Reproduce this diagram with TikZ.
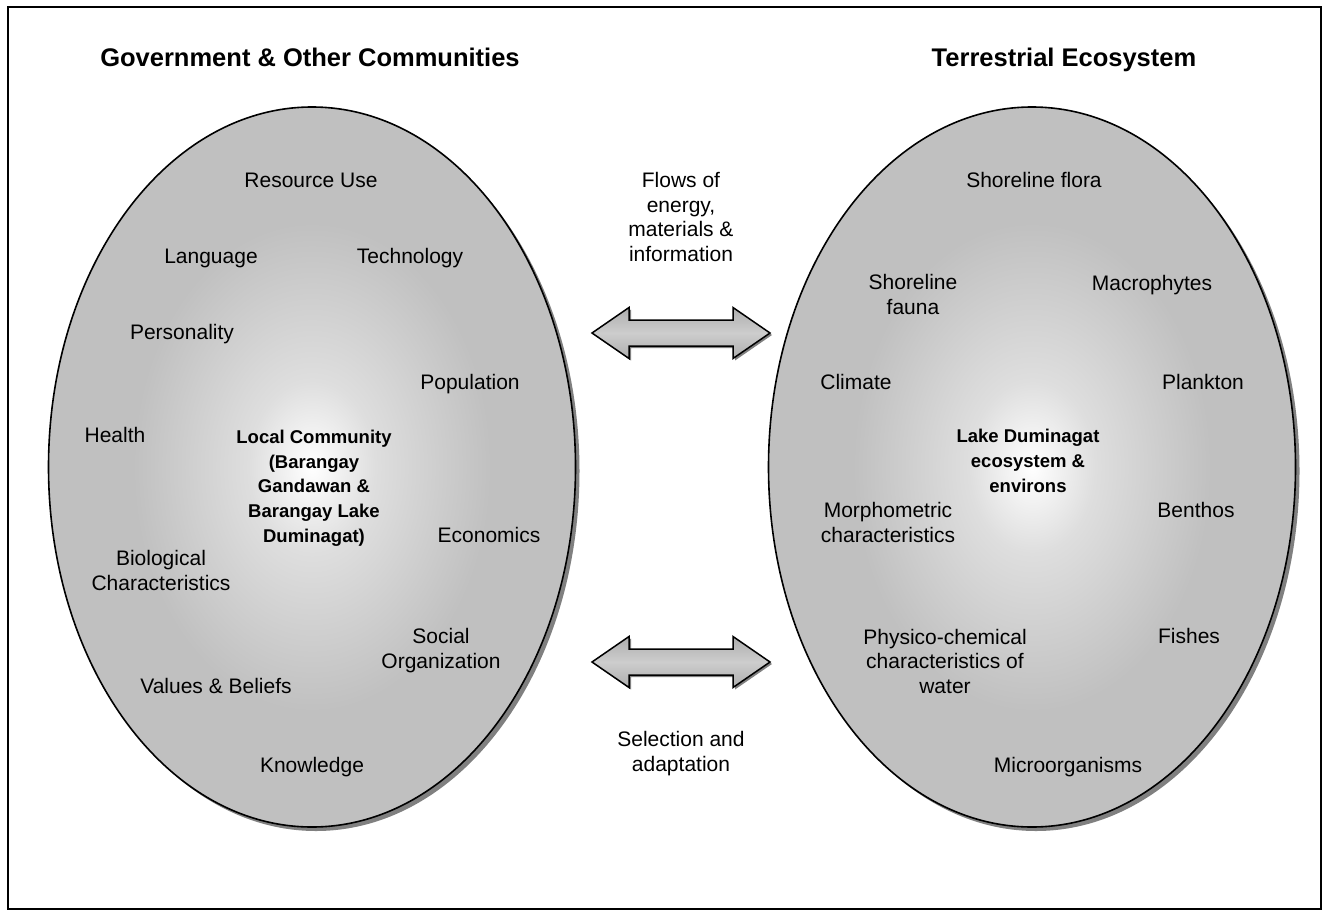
\documentclass[tikz,border=0pt]{standalone}
\usepackage{fontspec}
\setmainfont{Liberation Sans}
\usetikzlibrary{shapes.geometric}
\definecolor{ellgray}{RGB}{192,192,192}
\definecolor{shadowgray}{RGB}{128,128,128}
\definecolor{midgray}{RGB}{222,222,222}
\definecolor{arrgray}{RGB}{205,205,205}
\pgfdeclareradialshading{ellshade}{\pgfpoint{0bp}{0bp}}{color(0bp)=(white); color(6bp)=(midgray); color(17bp)=(ellgray); color(25bp)=(ellgray); color(50bp)=(ellgray)}
\tikzset{
  lbl/.style={font=\fontsize{21}{24.6}\selectfont, align=center, inner sep=0pt, anchor=base},
  blbl/.style={lbl, font=\fontsize{18.5}{24.6}\selectfont\bfseries},
  ttl/.style={font=\fontsize{25.5}{29}\selectfont\bfseries, inner sep=0pt, anchor=base},
  bigell/.style={ellipse, minimum width=527pt, minimum height=720pt, inner sep=0pt},
  ellbody/.style={bigell, shading=ellshade, draw=black, line width=1.6pt},
  ellshadow/.style={bigell, fill=shadowgray},
  arrbody/.style={draw=black, line width=1.5pt, top color=ellgray!90!black, bottom color=ellgray!90!black, middle color=arrgray},
}
\begin{document}
\begin{tikzpicture}[x=1pt,y=-1pt]
\useasboundingbox (0,0) rectangle (1325,916);
\draw[line width=2.5pt] (8,7) rectangle (1321,909);
% titles
\node[ttl] (ttlL) at (310,66) {Government \& Other Communities};
\node[ttl] (ttlR) at (1064,66) {Terrestrial Ecosystem};
% ellipses
\node[ellshadow] (shL) at (316,471) {};
\node[ellbody] (ellL) at (312,467) {};
\node[ellshadow] (shR) at (1036,471) {};
\node[ellbody] (ellR) at (1032,467) {};
% arrows
\begin{scope}[shift={(681,333)}]
\coordinate (arrU) at (0,0);
\fill[shadowgray] (-87,2) -- ++(37,-25.5) -- ++(0,12.5) -- ++(104,0) -- ++(0,-12.5) -- ++(37,25.5) -- ++(-37,25.5) -- ++(0,-12.5) -- ++(-104,0) -- ++(0,12.5) -- cycle;
\path[arrbody] (-89,0) -- ++(37,-25.5) -- ++(0,12.5) -- ++(104,0) -- ++(0,-12.5) -- ++(37,25.5) -- ++(-37,25.5) -- ++(0,-12.5) -- ++(-104,0) -- ++(0,12.5) -- cycle;
\end{scope}
\begin{scope}[shift={(681,662)}]
\coordinate (arrD) at (0,0);
\fill[shadowgray] (-87,2) -- ++(37,-25.5) -- ++(0,12.5) -- ++(104,0) -- ++(0,-12.5) -- ++(37,25.5) -- ++(-37,25.5) -- ++(0,-12.5) -- ++(-104,0) -- ++(0,12.5) -- cycle;
\path[arrbody] (-89,0) -- ++(37,-25.5) -- ++(0,12.5) -- ++(104,0) -- ++(0,-12.5) -- ++(37,25.5) -- ++(-37,25.5) -- ++(0,-12.5) -- ++(-104,0) -- ++(0,12.5) -- cycle;
\end{scope}
% middle texts (base anchor = baseline of last line)
\node[lbl] (flows) at (681,261.5) {Flows of\\energy,\\materials \&\\information};
\node[lbl] (select) at (681,771.5) {Selection and\\adaptation};
% left ellipse labels
\node[lbl] (resource) at (311,187.5) {Resource Use};
\node[lbl] (language) at (211,263.5) {Language};
\node[lbl] (technology) at (410,263.5) {Technology};
\node[lbl] (personality) at (182,339.5) {Personality};
\node[lbl] (population) at (470,389.5) {Population};
\node[lbl] (health) at (115,442.5) {Health};
\node[blbl] (local) at (314,542) {Local Community\\(Barangay\\Gandawan \&\\Barangay Lake\\Duminagat)};
\node[lbl] (economics) at (489,542.5) {Economics};
\node[lbl] (biological) at (161,590.5) {Biological\\Characteristics};
\node[lbl] (social) at (441,668.5) {Social\\Organization};
\node[lbl] (values) at (216,693.5) {Values \& Beliefs};
\node[lbl] (knowledge) at (312,772.5) {Knowledge};
% right ellipse labels
\node[lbl] (flora) at (1034,187.5) {Shoreline flora};
\node[lbl] (fauna) at (913,314.5) {Shoreline\\fauna};
\node[lbl] (macro) at (1152,290.5) {Macrophytes};
\node[lbl] (climate) at (856,389.5) {Climate};
\node[lbl] (plankton) at (1203,389.5) {Plankton};
\node[blbl] (lake) at (1028,492) {Lake Duminagat\\ecosystem \&\\environs};
\node[lbl] (morpho) at (888,542.5) {Morphometric\\characteristics};
\node[lbl] (benthos) at (1196,517.5) {Benthos};
\node[lbl] (physico) at (945,693.5) {Physico-chemical\\characteristics of\\water};
\node[lbl] (fishes) at (1189,643.5) {Fishes};
\node[lbl] (micro) at (1068,772.5) {Microorganisms};
\end{tikzpicture}
\end{document}
